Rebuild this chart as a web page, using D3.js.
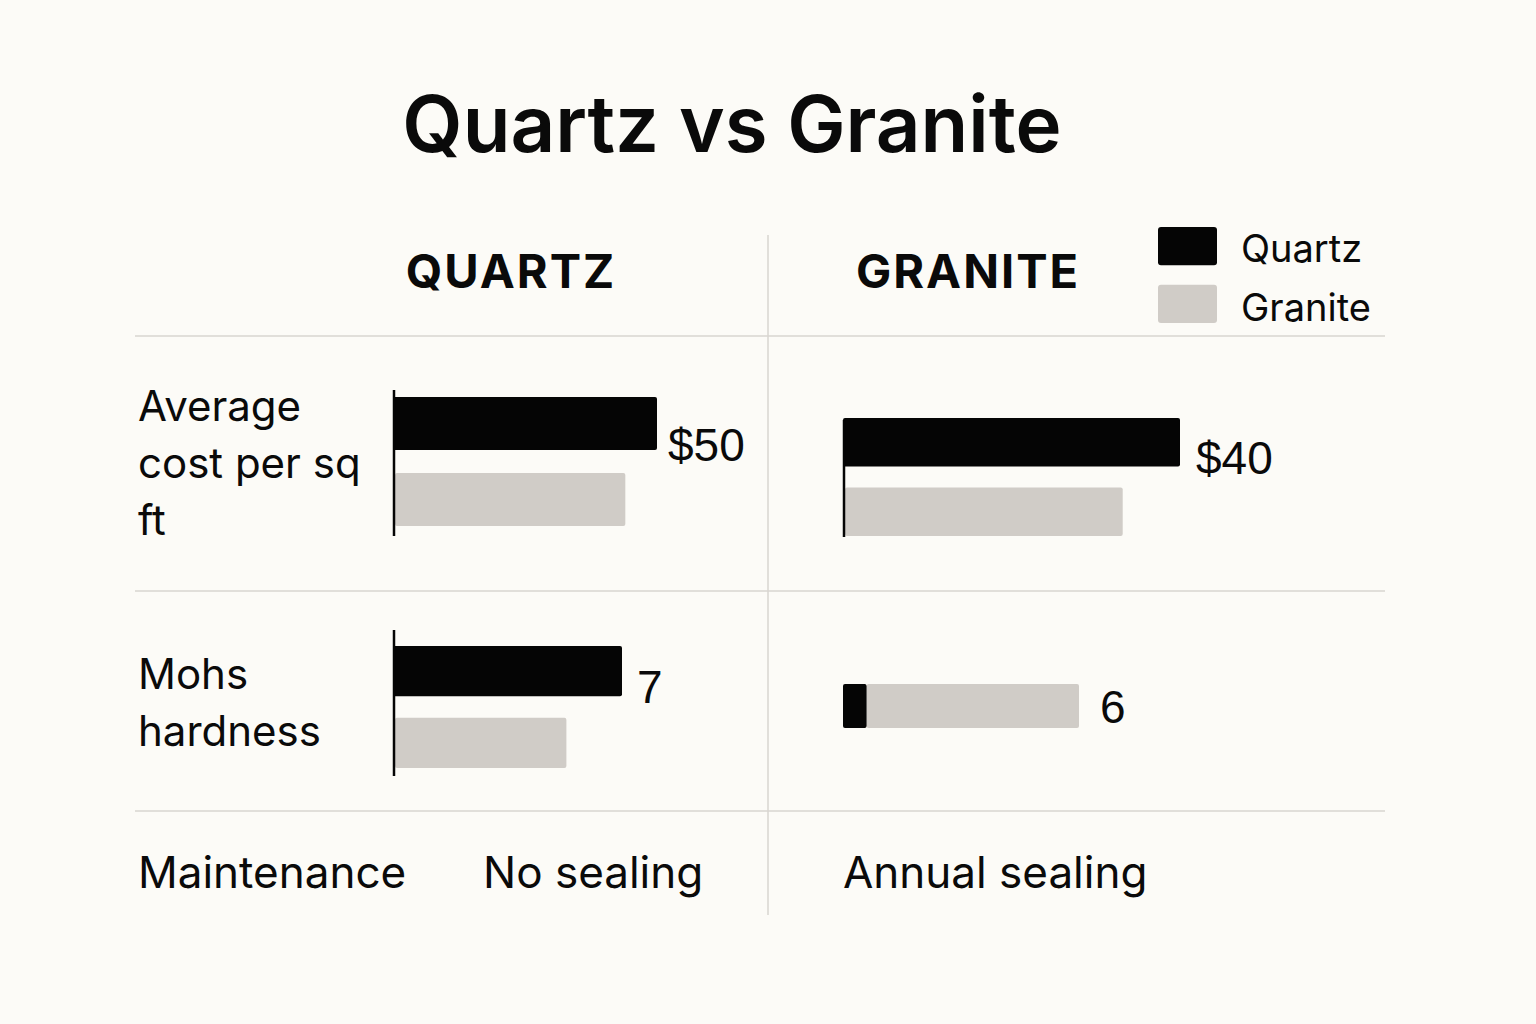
<!DOCTYPE html>
<html>
<head>
<meta charset="utf-8">
<script src="https://cdn.jsdelivr.net/npm/d3@7"></script>
<style>
  html, body { margin: 0; padding: 0; background: #fcfbf7; }
  svg { display: block; }
</style>
</head>
<body>
<svg id="chart" width="1536" height="1024"></svg>
<script>
// ---------- DATA ----------
const title = "Quartz vs Granite";
const panels = ["QUARTZ", "GRANITE"];
const series = ["Quartz", "Granite"];
const metrics = ["Average cost per sq ft", "Mohs hardness", "Maintenance"];
// bar values in the QUARTZ panel (per metric: cost, hardness)
const quartzPanelQuartz = [50, 7];
const quartzPanelGranite = [44, 5.3];
// bar values in the GRANITE panel (hardness row is stacked)
const granitePanelQuartz = [40, 0.6];
const granitePanelGranite = [33.2, 5.4];
const quartzPanelLabels = ["$50", "7"];
const granitePanelLabels = ["$40", "6"];
const maintenance = ["No sealing", "Annual sealing"];

// ---------- STYLE / LAYOUT ----------
const colors = { Quartz: "#050505", Granite: "#d0ccc7" };
const bg = "#fcfbf7";
const gridColor = "#d9d6d1";
const sans = "Inter, 'Liberation Sans', sans-serif";
const arial = "'Liberation Sans', Arial, sans-serif";

const svg = d3.select("#chart");
svg.append("rect").attr("width", 1536).attr("height", 1024).attr("fill", bg);

// title
svg.append("text").text(title)
  .attr("x", 732).attr("y", 152).attr("text-anchor", "middle")
  .attr("font-family", sans).attr("font-weight", 600).attr("font-size", 78)
  .attr("fill", "#0a0a0a");

// panel headers
const headerX = [511, 968];
svg.selectAll("text.header").data(panels).join("text")
  .attr("class", "header").text(d => d)
  .attr("x", (d, i) => headerX[i]).attr("y", 288).attr("text-anchor", "middle")
  .attr("font-family", sans).attr("font-weight", 700).attr("font-size", 47)
  .attr("letter-spacing", 2).attr("fill", "#0a0a0a");

// grid lines
const hLines = [336, 591, 811];
svg.selectAll("line.h").data(hLines).join("line")
  .attr("x1", 135).attr("x2", 1385).attr("y1", d => d).attr("y2", d => d)
  .attr("stroke", gridColor).attr("stroke-width", 1.5);
svg.append("line").attr("x1", 768).attr("x2", 768).attr("y1", 235).attr("y2", 915)
  .attr("stroke", gridColor).attr("stroke-width", 1.5);

// legend
const legendY = d3.scaleBand().domain(series).range([227, 323]).paddingInner(0.34);
const legendBase = [262, 321];
const leg = svg.append("g");
leg.selectAll("rect").data(series).join("rect")
  .attr("x", 1158).attr("y", d => legendY(d)).attr("width", 59).attr("height", legendY.bandwidth())
  .attr("rx", 3).attr("fill", d => colors[d]);
leg.selectAll("text").data(series).join("text")
  .text(d => d).attr("x", 1241).attr("y", (d, i) => legendBase[i])
  .attr("font-family", sans).attr("font-size", 38).attr("fill", "#0a0a0a");

// row labels (wrapped)
const labelTop = [421, 689, 888];
const lineH = 57;
function wrapLines(str, maxW, size) {
  const tmp = svg.append("text").attr("font-family", sans).attr("font-size", size);
  const words = str.split(" ");
  const lines = [];
  let cur = "";
  words.forEach(w => {
    const test = cur ? cur + " " + w : w;
    tmp.text(test);
    if (tmp.node().getComputedTextLength() > maxW && cur) { lines.push(cur); cur = w; }
    else cur = test;
  });
  lines.push(cur);
  tmp.remove();
  return lines;
}
metrics.forEach((m, i) => {
  const size = i < 2 ? 42 : 44;
  const lines = i < 2 ? wrapLines(m, 225, size) : [m];
  const t = svg.append("text").attr("font-family", sans).attr("font-size", size).attr("fill", "#0a0a0a");
  lines.forEach((ln, j) => {
    t.append("tspan").attr("x", 138).attr("y", labelTop[i] + j * lineH).text(ln);
  });
});

// maintenance texts
const maintX = [483, 843];
svg.selectAll("text.maint").data(maintenance).join("text")
  .attr("class", "maint").text(d => d)
  .attr("x", (d, i) => maintX[i]).attr("y", 888)
  .attr("font-family", sans).attr("font-size", 44).attr("fill", "#0a0a0a");

// ---------- BAR CELLS ----------
const cells = [
  { q: quartzPanelQuartz[0], g: quartzPanelGranite[0], label: quartzPanelLabels[0],
    x0: 393, w: 264, dmax: 50, yr: [397, 526], stacked: false, axis: [390, 536], labelY: 461, gap: 11 },
  { q: granitePanelQuartz[0], g: granitePanelGranite[0], label: granitePanelLabels[0],
    x0: 843, w: 337, dmax: 40, yr: [418, 536], stacked: false, axis: [420, 537], labelY: 474, gap: 16 },
  { q: quartzPanelQuartz[1], g: quartzPanelGranite[1], label: quartzPanelLabels[1],
    x0: 393, w: 229, dmax: 7, yr: [646, 768], stacked: false, axis: [630, 776], labelY: 703, gap: 15 },
  { q: granitePanelQuartz[1], g: granitePanelGranite[1], label: granitePanelLabels[1],
    x0: 843, w: 236, dmax: 6, yr: [684, 728], stacked: true, axis: null, labelY: 723, gap: 21 }
];

cells.forEach(c => {
  const x = d3.scaleLinear().domain([0, c.dmax]).range([c.x0, c.x0 + c.w]);
  const g = svg.append("g");
  if (!c.stacked) {
    const y = d3.scaleBand().domain(series).range(c.yr).paddingInner(0.3);
    const vals = [{ s: "Quartz", v: c.q }, { s: "Granite", v: c.g }];
    g.selectAll("rect").data(vals).join("rect")
      .attr("x", d => x(0) + (d.s === "Granite" ? 2 : 0))
      .attr("y", d => y(d.s))
      .attr("width", d => x(d.v) - x(0) - (d.s === "Granite" ? 2 : 0))
      .attr("height", y.bandwidth())
      .attr("rx", 2)
      .attr("fill", d => colors[d.s]);
    if (c.axis) {
      g.append("line").attr("x1", x(0) + 1).attr("x2", x(0) + 1)
        .attr("y1", c.axis[0]).attr("y2", c.axis[1])
        .attr("stroke", "#050505").attr("stroke-width", 2.5);
    }
    g.append("text").text(c.label)
      .attr("x", x(c.q) + c.gap).attr("y", c.labelY)
      .attr("font-family", arial).attr("font-size", 46).attr("fill", "#0a0a0a");
  } else {
    const stack = [{ s: "Granite", a: c.q, b: c.q + c.g }, { s: "Quartz", a: 0, b: c.q }];
    g.selectAll("rect").data(stack).join("rect")
      .attr("x", d => x(d.a)).attr("y", c.yr[0])
      .attr("width", d => x(d.b) - x(d.a)).attr("height", c.yr[1] - c.yr[0])
      .attr("rx", 2).attr("fill", d => colors[d.s]);
    g.append("text").text(c.label)
      .attr("x", x(c.q + c.g) + c.gap).attr("y", c.labelY)
      .attr("font-family", arial).attr("font-size", 46).attr("fill", "#0a0a0a");
  }
});
</script>
</body>
</html>
